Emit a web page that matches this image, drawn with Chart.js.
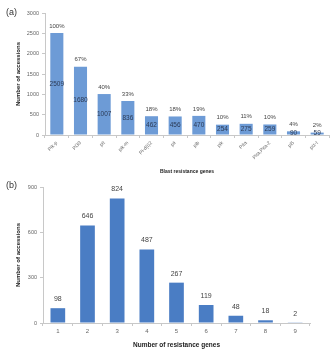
<!DOCTYPE html>
<html>
<head>
<meta charset="utf-8">
<script src="https://cdn.jsdelivr.net/npm/chart.js@4.4.1/dist/chart.umd.min.js"></script>
<style>
    body { margin: 0; background: #fff; width: 332px; height: 349px; position: relative; overflow: hidden; font-family: "Liberation Sans", Arial, sans-serif; }
    .box { position: absolute; left: 0; width: 332px; }
    .tag { position: absolute; left: 6px; font-size: 9px; color: #333; }
</style>
</head>
<body>
<div class="box" style="top:0;height:175px"><canvas id="geneChart"></canvas></div>
<div class="box" style="top:175px;height:174px"><canvas id="countChart"></canvas></div>
<div class="tag" style="top:7px">(a)</div>
<div class="tag" style="top:180px">(b)</div>
<script>
const geneLabels = ['Pik-p', 'Pi39', 'pit', 'pik-m', 'Pi-d(t)2', 'pii', 'pib', 'pik', 'Pita', 'Pita,Pita-2', 'pi5', 'piz-t'];
const geneCounts = [2509, 1680, 1007, 836, 462, 456, 470, 254, 275, 259, 90, 59];
const genePercent = ['100%', '67%', '40%', '33%', '18%', '18%', '19%', '10%', '11%', '10%', '4%', '2%'];
const geneTicks = [0, 500, 1000, 1500, 2000, 2500, 3000];

const countLabels = ['1', '2', '3', '4', '5', '6', '7', '8', '9'];
const countValues = [98, 646, 824, 487, 267, 119, 48, 18, 2];
const countTicks = [0, 300, 600, 900];

const tickColor = '#666';
const axisColor = '#c8c8c8';

// draws the text above / inside each bar
const barText = {
    id: 'barText',
    afterDatasetsDraw(chart, args, opts) {
        const ctx = chart.ctx;
        const bars = chart.getDatasetMeta(0).data;
        ctx.save();
        ctx.textAlign = 'center';
        ctx.textBaseline = 'middle';
        bars.forEach((bar, i) => {
            if (opts.above) {
                ctx.font = opts.aboveFont;
                ctx.fillStyle = '#444';
                ctx.fillText(opts.above[i], bar.x, bar.y - opts.gap);
            }
            if (opts.inside) {
                ctx.font = opts.insideFont;
                ctx.fillStyle = '#2b3a55';
                ctx.fillText(opts.inside[i], bar.x, (bar.y + bar.base) / 2);
            }
        });
        ctx.restore();
    }
};

function axes(ticks, xTitle, yTitle, xSize, ySize, yWidth, xHeight, rotate) {
    return {
        x: {
            grid: { display: true, drawOnChartArea: false, offset: true, tickLength: 3, color: axisColor },
            border: { color: axisColor },
            ticks: { color: tickColor, font: { size: xSize }, maxRotation: rotate, minRotation: rotate, padding: 2, autoSkip: false },
            title: { display: true, text: xTitle, color: '#222', font: { size: rotate ? 5 : 6.5, weight: 'bold' }, padding: { top: 0, bottom: 0 } },
            afterFit: (s) => { s.height = xHeight; }
        },
        y: {
            min: ticks[0],
            max: ticks[ticks.length - 1],
            afterBuildTicks: (s) => { s.ticks = ticks.map(v => ({ value: v })); },
            grid: { display: true, drawOnChartArea: false, tickLength: 3, color: axisColor },
            border: { color: axisColor },
            ticks: { color: tickColor, font: { size: ySize }, padding: 3, callback: (v) => String(v) },
            title: { display: true, text: yTitle, color: '#222', font: { size: 6, weight: 'bold' }, padding: { top: 0, bottom: 2 } },
            afterFit: (s) => { s.width = yWidth; }
        }
    };
}

new Chart(document.getElementById('geneChart'), {
    type: 'bar',
    data: {
        labels: geneLabels,
        datasets: [{ data: geneCounts, backgroundColor: '#6d9bd6', barPercentage: 0.6, categoryPercentage: 0.92 }]
    },
    options: {
        responsive: true,
        maintainAspectRatio: false,
        animation: false,
        layout: { padding: { top: 13, right: 3, left: 15, bottom: 0 } },
        plugins: {
            legend: { display: false },
            tooltip: { enabled: false },
            barText: { above: genePercent, inside: geneCounts, gap: 7, aboveFont: '6px "Liberation Sans"', insideFont: '6.5px "Liberation Sans"' }
        },
        scales: axes(geneTicks, 'Blast resistance genes', 'Number of accessions', 5, 5.5, 30, 40, 45)
    },
    plugins: [barText]
});

new Chart(document.getElementById('countChart'), {
    type: 'bar',
    data: {
        labels: countLabels,
        datasets: [{ data: countValues, backgroundColor: '#4a7dc4', barPercentage: 0.55, categoryPercentage: 0.9 }]
    },
    options: {
        responsive: true,
        maintainAspectRatio: false,
        animation: false,
        layout: { padding: { top: 12, right: 22, left: 15, bottom: 0 } },
        plugins: {
            legend: { display: false },
            tooltip: { enabled: false },
            barText: { above: countValues, gap: 9, aboveFont: '7px "Liberation Sans"' }
        },
        scales: axes(countTicks, 'Number of resistance genes', 'Number of accessions', 6, 5.5, 28, 26, 0)
    },
    plugins: [barText]
});
</script>
</body>
</html>
